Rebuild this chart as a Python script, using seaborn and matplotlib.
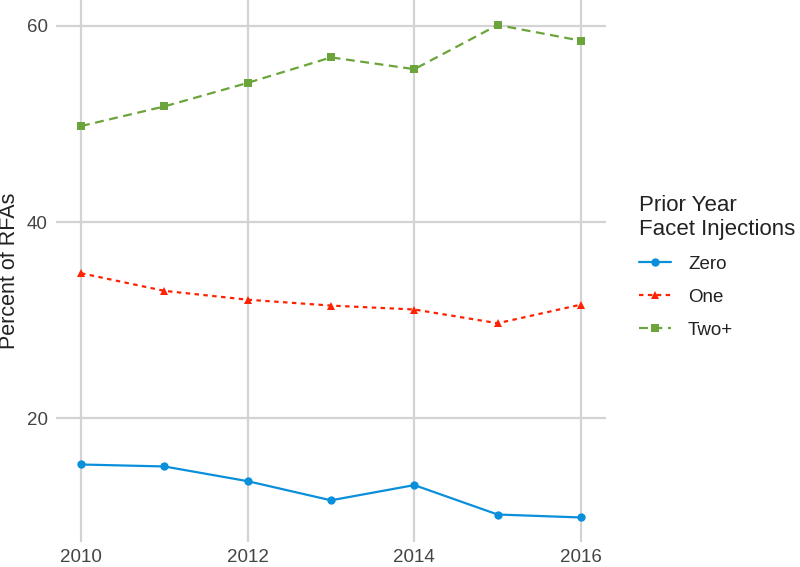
"""
Share of RFAs by number of facet injections in the prior year.
"""

import pandas as pd
import seaborn as sns
import matplotlib.pyplot as plt

years = [2010, 2011, 2012, 2013, 2014, 2015, 2016]
zero = [15.3, 15.1, 13.6, 11.65, 13.2, 10.2, 9.9]
one = [34.8, 33.0, 32.1, 31.5, 31.1, 29.7, 31.6]
two_plus = [49.8, 51.8, 54.2, 56.8, 55.6, 60.1, 58.5]

groups = ["Zero", "One", "Two+"]
colors = ["#0A8FDB", "#FF2200", "#6BA43A"]

df = pd.DataFrame({
    "year": years * 3,
    "pct": zero + one + two_plus,
    "group": [g for g in groups for _ in years],
})

sns.set_theme(style="white")
plt.rcParams["font.family"] = ["Liberation Sans", "DejaVu Sans"]

fig = plt.figure(figsize=(8, 5.67), dpi=100)
ax = fig.add_axes([0.07, 0.0441, 0.6875, 0.9559])

sns.lineplot(
    data=df, x="year", y="pct", hue="group", style="group",
    hue_order=groups, style_order=groups,
    palette=colors,
    markers={"Zero": "o", "One": "^", "Two+": "s"},
    dashes={"Zero": "", "One": (2, 2), "Two+": (4, 2.5)},
    markersize=6, markeredgewidth=0, linewidth=1.6, ax=ax,
)

ax.set_xlim(2009.7, 2016.3)
ax.set_ylim(7.4, 62.65)
ax.set_xticks([2010, 2012, 2014, 2016])
ax.set_yticks([20, 40, 60])
ax.grid(True, color="#D3D3D3", linewidth=1.6)
ax.set_axisbelow(True)
for s in ax.spines.values():
    s.set_visible(False)
ax.tick_params(axis="both", length=0, labelsize=13.5, labelcolor="#444444")
ax.tick_params(axis="x", pad=5)
ax.tick_params(axis="y", pad=6)

ax.set_xlabel("")
ax.set_ylabel("Percent of RFAs", fontsize=15.5, color="#222222")
ax.yaxis.set_label_coords(-0.066, 0.5)

leg = ax.legend(
    title="Prior Year\nFacet Injections", frameon=False,
    loc="upper left", bbox_to_anchor=(1.03, 0.672),
    fontsize=13.5, title_fontsize=16, handlelength=1.7,
    handletextpad=0.9, labelspacing=0.85, alignment="left",
)
leg.get_title().set_color("#222222")
for t in leg.get_texts():
    t.set_color("#222222")

plt.savefig("out.png", dpi=100)
